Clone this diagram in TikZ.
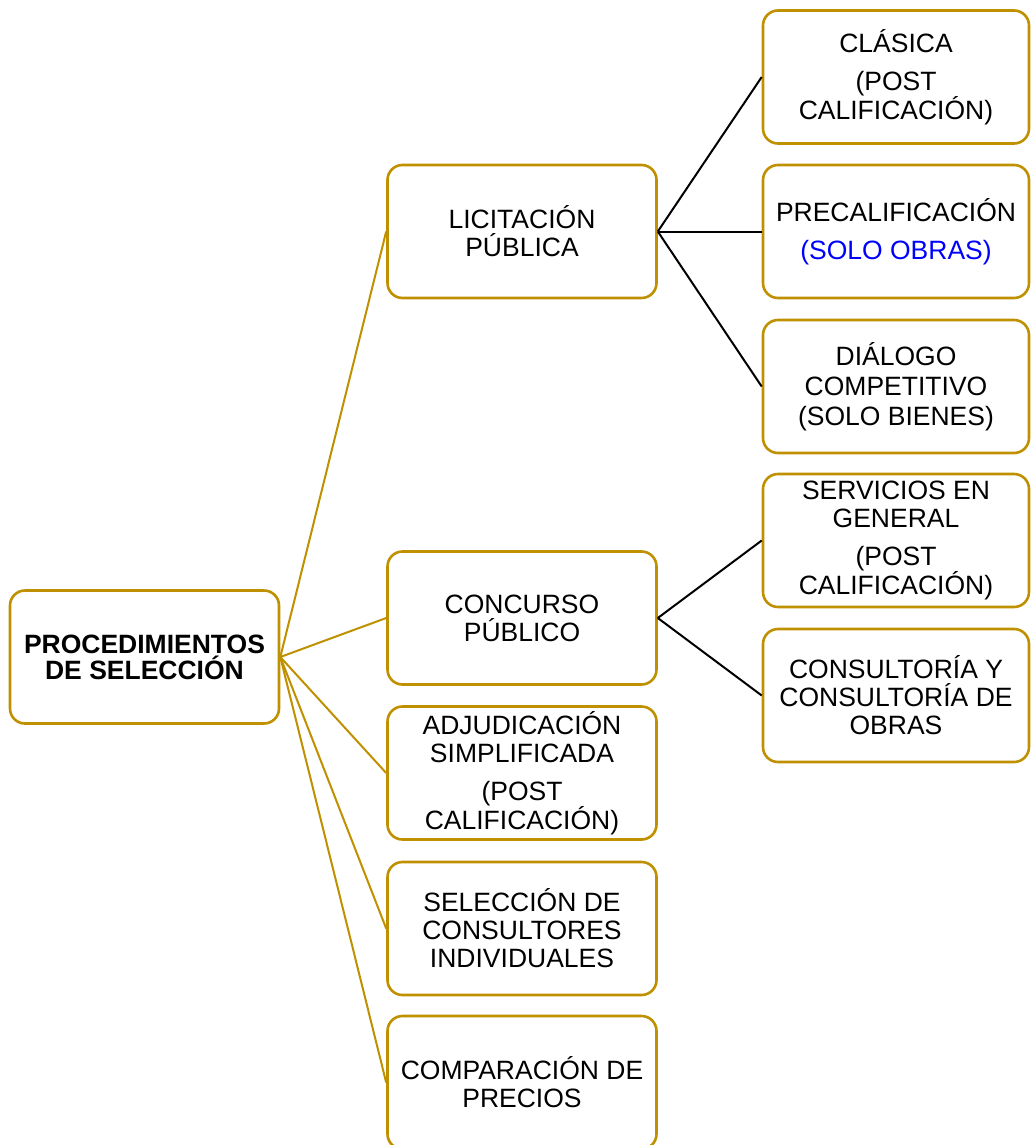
\documentclass[tikz,border=0pt]{standalone}
\usepackage{fontspec}
\setmainfont{Liberation Sans}
\usepackage{xcolor}
\usepackage{tikz}
\definecolor{oro}{HTML}{BF9000}
\begin{document}
\begin{tikzpicture}
                            [x=1pt, y=-1pt,
                            caja/.style = {draw=oro, line width=2.6pt,
                                        rounded corners=15pt, fill=white,
                                        minimum width=269pt, minimum height=133pt,
                                        inner sep=0pt, align=center,
                                        font=\fontsize{26.5}{28}\selectfont},
                            enlace/.style = {draw=oro, line width=2pt},
                            ramal/.style = {draw=black, line width=2pt}]
                            \useasboundingbox (0,0) rectangle (1030,1145);
                            % Procedimiento principal
                            \node[caja,font=\fontsize{26.5}{26}\selectfont\bfseries] (proc) at (144.5,657) {PROCEDIMIENTOS\\DE SELECCIÓN};
                            % Columna central
                            \node[caja] (lic) at (522,231.5) {LICITACIÓN\\PÚBLICA};
                            \node[caja] (con) at (522,618) {CONCURSO\\PÚBLICO};
                            \node[caja] (adj) at (522,773) {ADJUDICACIÓN\\SIMPLIFICADA\\[10pt](POST\\CALIFICACIÓN)};
                            \node[caja] (sel) at (522,928.5) {SELECCIÓN DE\\CONSULTORES\\INDIVIDUALES};
                            \node[caja] (com) at (522,1082.5) {COMPARACIÓN DE\\PRECIOS};
                            % Modalidades de licitación
                            \node[caja,minimum width=266pt] (cla) at (896,77) {CLÁSICA\\[10pt](POST\\CALIFICACIÓN)};
                            \node[caja,minimum width=266pt] (pre) at (896,231.5) {PRECALIFICACIÓN\\[10pt]{\color{blue}(SOLO OBRAS)}};
                            \node[caja,minimum width=266pt] (dia) at (896,386.5) {DIÁLOGO\\[2pt]COMPETITIVO\\[2pt](SOLO BIENES)};
                            % Modalidades de concurso
                            \node[caja,minimum width=266pt] (ser) at (896,540.5) {SERVICIOS EN\\GENERAL\\[10pt](POST\\CALIFICACIÓN)};
                            \node[caja,minimum width=266pt] (cons) at (896,695.5) {CONSULTORÍA Y\\CONSULTORÍA DE\\OBRAS};
                            % Enlaces del procedimiento
                            \draw[enlace] (proc.east) -- (lic.west);
                            \draw[enlace] (proc.east) -- (con.west);
                            \draw[enlace] (proc.east) -- (adj.west);
                            \draw[enlace] (proc.east) -- (sel.west);
                            \draw[enlace] (proc.east) -- (com.west);
                            % Ramas
                            \draw[ramal] (lic.east) -- (cla.west);
                            \draw[ramal] (lic.east) -- (pre.west);
                            \draw[ramal] (lic.east) -- (dia.west);
                            \draw[ramal] (con.east) -- (ser.west);
                            \draw[ramal] (con.east) -- (cons.west);
                        \end{tikzpicture}
\end{document}
